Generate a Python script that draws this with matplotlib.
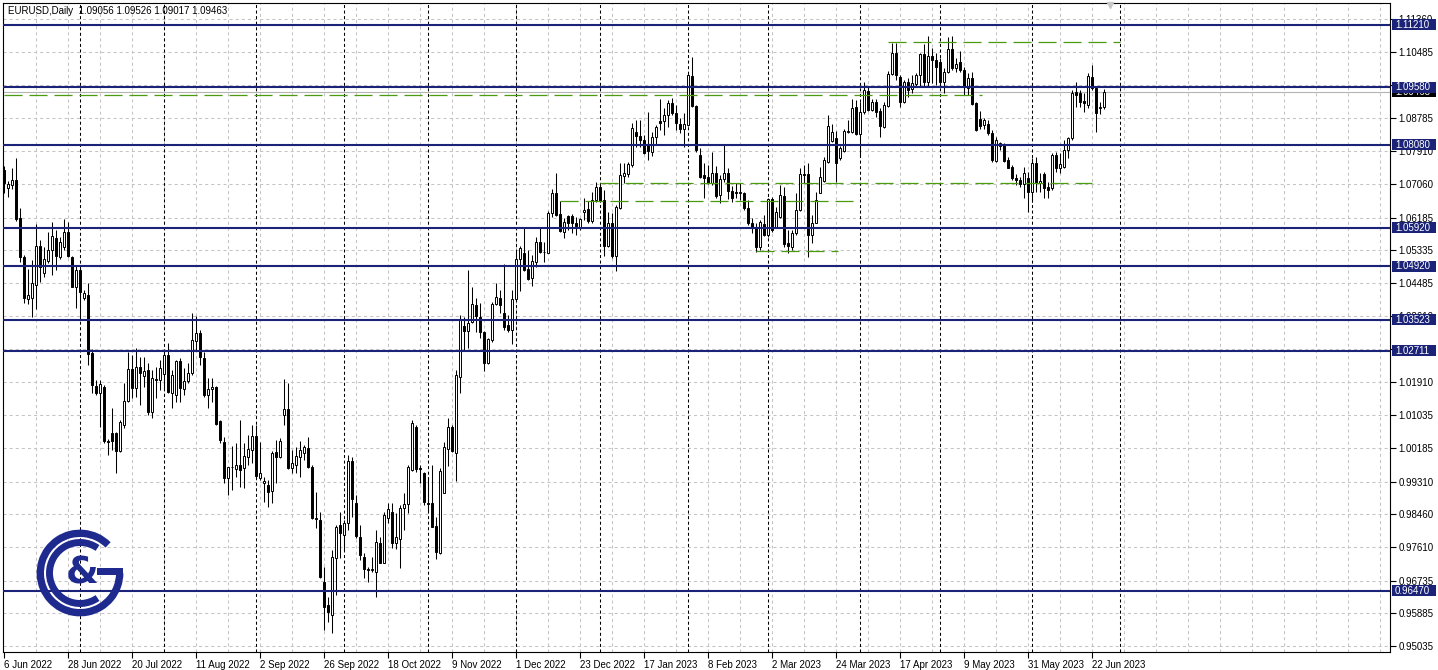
import numpy as np
import pandas as pd
import matplotlib
matplotlib.use("Agg")
import matplotlib.pyplot as plt
from matplotlib import patches, transforms

# ---- data: EURUSD daily bars, 6 Jun 2022 .. 27 Jun 2023 (no bar on 26 Dec 2022) ----
SYMBOL = "EURUSD,Daily"

opens = [
    1.07422, 1.06945, 1.07032, 1.07162, 1.06164, 1.05149, 1.04055, 1.04081, 1.04428, 1.05452,
    1.04732, 1.05062, 1.05340, 1.05643, 1.05166, 1.05409, 1.05800, 1.05166, 1.04385, 1.04819,
    1.04081, 1.04168, 1.02649, 1.01799, 1.01608, 1.01782, 1.00367, 1.00567, 1.00567, 1.00107,
    1.00784, 1.01417, 1.02233, 1.01738, 1.02285, 1.02068, 1.02216, 1.01131, 1.01973, 1.01955,
    1.02103, 1.02597, 1.01608, 1.01565, 1.02450, 1.01712, 1.01929, 1.02129, 1.02979, 1.03187,
    1.02519, 1.01565, 1.01712, 1.01782, 1.00896, 1.00350, 0.99395, 0.99690, 0.99629, 0.99742,
    0.99656, 0.99942, 1.00133, 1.00497, 0.99413, 0.99265, 0.99222, 0.99074, 1.00089, 0.99942,
    1.01044, 1.01191, 0.99656, 0.99742, 0.99942, 1.00063, 1.00194, 0.99699, 0.98354, 0.98310,
    0.96705, 0.96098, 0.95837, 0.97312, 0.98180, 0.97920, 0.98241, 0.99847, 0.98744, 0.97877,
    0.97339, 0.97026, 0.97009, 0.96965, 0.97703, 0.97200, 0.98354, 0.98527, 0.97703, 0.97807,
    0.98614, 0.98727, 0.99612, 1.00723, 0.99656, 0.99525, 0.98744, 0.98762, 0.98154, 0.97443,
    0.99022, 1.00150, 1.00723, 1.00063, 1.02025, 1.03361, 1.03240, 1.03474, 1.03908, 1.03604,
    1.03214, 1.02389, 1.02997, 1.03934, 1.04081, 1.03691, 1.03387, 1.03257, 1.04055, 1.05097,
    1.05270, 1.04836, 1.04602, 1.05036, 1.05557, 1.05296, 1.05270, 1.06294, 1.06814, 1.06268,
    1.05816, 1.06224, 1.06224, 1.06051, 1.05929, 1.06337, 1.06398, 1.06103, 1.06641, 1.06971,
    1.06641, 1.05443, 1.06033, 1.05183, 1.06424, 1.07266, 1.07318, 1.07552, 1.08420, 1.08307,
    1.08203, 1.08073, 1.07899, 1.08272, 1.08698, 1.08706, 1.08854, 1.09175, 1.08915, 1.08619,
    1.08481, 1.08593, 1.09869, 1.09088, 1.07812, 1.07292, 1.07231, 1.07075, 1.07335, 1.06771,
    1.07179, 1.07352, 1.06884, 1.06841, 1.06814, 1.06832, 1.06424, 1.06033, 1.05947, 1.05409,
    1.06016, 1.05730, 1.06658, 1.05947, 1.06207, 1.06754, 1.05530, 1.05409, 1.05773, 1.06381,
    1.07318, 1.07318, 1.05730, 1.06051, 1.06832, 1.07144, 1.07639, 1.08177, 1.08246, 1.07726,
    1.07917, 1.08403, 1.08420, 1.09071, 1.08351, 1.08923, 1.09479, 1.08984, 1.09184, 1.08958,
    1.08550, 1.09097, 1.09913, 1.10459, 1.09852, 1.09184, 1.09704, 1.09531, 1.09652, 1.09895,
    1.10433, 1.09704, 1.10390, 1.10286, 1.10225, 1.09704, 1.09982, 1.10572, 1.10086, 1.10225,
    1.10025, 1.09548, 1.09809, 1.09158, 1.08750, 1.08593, 1.08611, 1.08377, 1.07656, 1.08056,
    1.08090, 1.07682, 1.07509, 1.07222, 1.07162, 1.07049, 1.07222, 1.06858, 1.07596, 1.07075,
    1.07309, 1.06988, 1.06962, 1.07813, 1.07465, 1.07509, 1.07943, 1.08246, 1.09461, 1.09418,
    1.09218, 1.09114, 1.09852, 1.09566, 1.09045, 1.09056,
]
highs = [
    1.07526, 1.07145, 1.07466, 1.07726, 1.06424, 1.05209, 1.04836, 1.05079, 1.06016, 1.05600,
    1.05426, 1.05817, 1.06077, 1.05860, 1.05687, 1.06138, 1.06077, 1.05183, 1.04949, 1.04862,
    1.04298, 1.04472, 1.02754, 1.01955, 1.01955, 1.01825, 1.00410, 1.01218, 1.00610, 1.00914,
    1.01868, 1.02693, 1.02606, 1.02780, 1.02545, 1.02563, 1.02389, 1.02216, 1.02302, 1.02476,
    1.02736, 1.02927, 1.02216, 1.02476, 1.02519, 1.02259, 1.02389, 1.03691, 1.03621, 1.03257,
    1.02693, 1.01999, 1.02016, 1.01799, 1.00914, 1.00463, 0.99699, 1.00237, 1.00324, 1.00914,
    1.00306, 1.00523, 1.00784, 1.00784, 1.00350, 0.99439, 0.99352, 1.00107, 1.00393, 1.00437,
    1.01981, 1.01868, 1.00133, 1.00220, 1.00367, 1.00263, 1.00480, 0.99742, 0.99048, 0.98527,
    0.97096, 0.96314, 0.97529, 0.98180, 0.98527, 0.98310, 1.00003, 0.99959, 0.98961, 0.98180,
    0.97443, 0.97096, 0.97356, 0.98050, 0.97877, 0.98527, 0.98762, 0.98744, 0.98484, 0.98701,
    0.99005, 0.99742, 1.00914, 1.00784, 0.99742, 0.99569, 0.99439, 0.99742, 0.98397, 0.99656,
    1.00350, 1.00957, 1.00784, 1.02216, 1.03647, 1.03604, 1.04819, 1.04385, 1.04081, 1.03951,
    1.03240, 1.03040, 1.03995, 1.04472, 1.04298, 1.04966, 1.03647, 1.04298, 1.05340, 1.05444,
    1.05904, 1.05340, 1.05209, 1.05687, 1.05904, 1.05557, 1.06364, 1.06919, 1.07352, 1.06624,
    1.06164, 1.06250, 1.06276, 1.06207, 1.06164, 1.06684, 1.06624, 1.06858, 1.07118, 1.07092,
    1.06901, 1.06337, 1.06294, 1.06511, 1.07595, 1.07613, 1.07639, 1.08654, 1.08724, 1.08724,
    1.08333, 1.08941, 1.08420, 1.08593, 1.09262, 1.09027, 1.09244, 1.09288, 1.09114, 1.08767,
    1.08897, 1.09921, 1.10355, 1.09114, 1.07986, 1.07613, 1.07552, 1.07899, 1.07526, 1.07292,
    1.08073, 1.07465, 1.07005, 1.07075, 1.07092, 1.06858, 1.06641, 1.06164, 1.06033, 1.06120,
    1.06250, 1.06684, 1.06728, 1.06467, 1.07031, 1.06988, 1.05860, 1.05860, 1.06814, 1.07465,
    1.07552, 1.07595, 1.06250, 1.06858, 1.07509, 1.07769, 1.08854, 1.08611, 1.08437, 1.08056,
    1.08489, 1.08724, 1.09270, 1.09244, 1.09184, 1.09704, 1.09592, 1.09270, 1.09270, 1.09045,
    1.09184, 1.09999, 1.10720, 1.10720, 1.09895, 1.09765, 1.09809, 1.09895, 1.09938, 1.10459,
    1.10694, 1.10919, 1.10590, 1.10459, 1.10329, 1.10069, 1.10893, 1.10919, 1.10329, 1.10520,
    1.10112, 1.09938, 1.09982, 1.09184, 1.08958, 1.08767, 1.08724, 1.08463, 1.08290, 1.08160,
    1.08116, 1.07769, 1.07552, 1.07309, 1.07248, 1.07509, 1.07379, 1.07743, 1.07769, 1.07335,
    1.07379, 1.07101, 1.07856, 1.07882, 1.07856, 1.08203, 1.08290, 1.09505, 1.09722, 1.09505,
    1.09418, 1.09938, 1.10156, 1.09592, 1.09201, 1.09526,
]
lows = [
    1.06832, 1.06728, 1.06919, 1.06103, 1.05036, 1.03951, 1.03934, 1.03587, 1.03795, 1.04515,
    1.04645, 1.04992, 1.04689, 1.04819, 1.05097, 1.05340, 1.05149, 1.04368, 1.03821, 1.03587,
    1.04038, 1.02346, 1.01608, 1.01565, 1.00740, 1.00306, 1.00003, 1.00133, 0.99525, 1.00089,
    1.00697, 1.01391, 1.01478, 1.01521, 1.01304, 1.01764, 1.01044, 1.00957, 1.01478, 1.01695,
    1.01695, 1.01608, 1.01218, 1.01391, 1.01391, 1.01565, 1.01868, 1.02085, 1.02736, 1.02346,
    1.01521, 1.01218, 1.01391, 1.00784, 1.00306, 0.99265, 0.98961, 0.99091, 0.99439, 0.99178,
    0.99135, 0.99742, 0.99786, 0.99395, 0.99352, 0.98788, 0.98640, 0.98744, 0.99265, 0.99916,
    1.00784, 0.99629, 0.99543, 0.99525, 0.99439, 0.99873, 0.99656, 0.98328, 0.98093, 0.96792,
    0.95447, 0.95664, 0.95360, 0.96358, 0.97312, 0.97529, 0.98050, 0.98380, 0.97833, 0.97269,
    0.96792, 0.96705, 0.96965, 0.96314, 0.97182, 0.97182, 0.98224, 0.97573, 0.97547, 0.97052,
    0.98050, 0.98484, 0.99595, 0.99569, 0.99265, 0.98701, 0.98527, 0.98119, 0.97286, 0.97425,
    0.99005, 0.99716, 1.00089, 0.99334, 1.01625, 1.02736, 1.02780, 1.03430, 1.03214, 1.03040,
    1.02198, 1.02363, 1.02953, 1.03908, 1.03691, 1.03257, 1.03214, 1.02892, 1.04038, 1.04281,
    1.04802, 1.04559, 1.04402, 1.04888, 1.05270, 1.05036, 1.05253, 1.06207, 1.06224, 1.05816,
    1.05643, 1.05860, 1.05790, 1.05730, 1.05860, 1.06120, 1.06051, 1.06051, 1.06598, 1.06598,
    1.05183, 1.05409, 1.05122, 1.04801, 1.06398, 1.07075, 1.07248, 1.07509, 1.08012, 1.08029,
    1.07838, 1.07682, 1.07786, 1.08073, 1.08463, 1.08333, 1.08533, 1.08854, 1.08463, 1.08376,
    1.08029, 1.08567, 1.09071, 1.07899, 1.07205, 1.06684, 1.07057, 1.07031, 1.06684, 1.06554,
    1.07118, 1.06658, 1.06598, 1.06684, 1.06641, 1.06381, 1.05990, 1.05773, 1.05296, 1.05339,
    1.05704, 1.05686, 1.05816, 1.05903, 1.06164, 1.05426, 1.05252, 1.05339, 1.05730, 1.06350,
    1.07075, 1.05166, 1.05513, 1.06033, 1.06814, 1.07118, 1.07613, 1.08142, 1.07118, 1.07682,
    1.07899, 1.08377, 1.08377, 1.08333, 1.07795, 1.08871, 1.08958, 1.08958, 1.08811, 1.08290,
    1.08524, 1.09071, 1.09895, 1.09765, 1.09071, 1.09158, 1.09331, 1.09418, 1.09592, 1.09618,
    1.09592, 1.09618, 1.09678, 1.09635, 1.09592, 1.09418, 1.09938, 1.10025, 1.09982, 1.09982,
    1.09375, 1.09375, 1.09114, 1.08437, 1.08489, 1.08489, 1.08333, 1.07639, 1.07639, 1.07943,
    1.07639, 1.07465, 1.07162, 1.07032, 1.06988, 1.06684, 1.06337, 1.06598, 1.06858, 1.06858,
    1.06684, 1.06684, 1.06901, 1.07379, 1.07335, 1.07483, 1.07726, 1.08203, 1.09071, 1.09071,
    1.08923, 1.09045, 1.09505, 1.08420, 1.08871, 1.09017,
]
closes = [
    1.07075, 1.07058, 1.07162, 1.06147, 1.05149, 1.04081, 1.04168, 1.04472, 1.05452, 1.04906,
    1.05097, 1.05340, 1.05704, 1.05183, 1.05539, 1.05800, 1.05183, 1.04385, 1.04819, 1.04255,
    1.04211, 1.02632, 1.01825, 1.01608, 1.01842, 1.00367, 1.00350, 1.00367, 1.00107, 1.00870,
    1.01417, 1.02233, 1.01738, 1.02285, 1.02146, 1.02189, 1.01131, 1.01999, 1.01964, 1.02259,
    1.02597, 1.01651, 1.02085, 1.02450, 1.01738, 1.01929, 1.02129, 1.02997, 1.03187, 1.02563,
    1.01565, 1.01712, 1.01773, 1.00810, 1.00393, 0.99395, 0.99682, 0.99699, 0.99742, 0.99612,
    0.99977, 1.00150, 1.00497, 0.99456, 0.99543, 0.99326, 0.99048, 1.00063, 0.99959, 1.00376,
    1.01200, 0.99656, 0.99786, 0.99977, 1.00133, 1.00220, 0.99682, 0.98354, 0.98328, 0.96835,
    0.96054, 0.95924, 0.97356, 0.98137, 0.97963, 0.98224, 0.99847, 0.98848, 0.97894, 0.97399,
    0.97026, 0.97009, 0.97026, 0.97746, 0.97200, 0.98441, 0.98588, 0.97720, 0.97859, 0.98614,
    0.98727, 0.99682, 1.00827, 0.99629, 0.99629, 0.98788, 0.98727, 0.98137, 0.97486, 0.99586,
    1.00220, 1.00723, 1.00115, 1.02085, 1.03517, 1.03240, 1.03448, 1.03925, 1.03621, 1.03214,
    1.02406, 1.03014, 1.03934, 1.04107, 1.03908, 1.03344, 1.03257, 1.04055, 1.05097, 1.05383,
    1.04819, 1.04585, 1.05053, 1.05557, 1.05296, 1.05279, 1.06312, 1.06815, 1.06250, 1.05843,
    1.06077, 1.06033, 1.06033, 1.05964, 1.06138, 1.06372, 1.06103, 1.06641, 1.06988, 1.06624,
    1.05443, 1.06033, 1.05183, 1.06450, 1.07292, 1.07335, 1.07578, 1.08507, 1.08307, 1.08203,
    1.07856, 1.07925, 1.08290, 1.08533, 1.08654, 1.08854, 1.09158, 1.08897, 1.08654, 1.08481,
    1.08619, 1.09895, 1.09088, 1.07943, 1.07231, 1.07205, 1.07075, 1.07335, 1.06754, 1.07179,
    1.07352, 1.06884, 1.06702, 1.06814, 1.06849, 1.06424, 1.06033, 1.05947, 1.05409, 1.06077,
    1.05730, 1.06658, 1.05860, 1.06320, 1.06771, 1.05495, 1.05443, 1.05790, 1.06381, 1.07318,
    1.07292, 1.05730, 1.06051, 1.06641, 1.07248, 1.07682, 1.08567, 1.08403, 1.07596, 1.07986,
    1.08437, 1.08437, 1.09045, 1.08351, 1.08923, 1.09505, 1.08984, 1.09184, 1.08941, 1.08576,
    1.09114, 1.09913, 1.10459, 1.09895, 1.09201, 1.09704, 1.09505, 1.09678, 1.09895, 1.10433,
    1.09704, 1.10399, 1.10286, 1.10112, 1.09722, 1.09982, 1.10572, 1.10086, 1.10173, 1.10025,
    1.09592, 1.09809, 1.09132, 1.08463, 1.08576, 1.08724, 1.08377, 1.07682, 1.08203, 1.08116,
    1.07656, 1.07483, 1.07205, 1.07162, 1.07049, 1.07335, 1.06858, 1.07596, 1.07075, 1.07136,
    1.06945, 1.06901, 1.07813, 1.07483, 1.07570, 1.07943, 1.08246, 1.09418, 1.09375, 1.09201,
    1.09158, 1.09878, 1.09548, 1.08897, 1.09071, 1.09463,
]

# horizontal levels (navy) and the bid line
levels = [1.11210, 1.09580, 1.08080, 1.05920, 1.04920, 1.03523, 1.02711, 0.96470]
bid = 1.09463

# green dashed trend segments: price, first bar, last bar
seg_price = [1.10762, 1.09375, 1.07076, 1.06623, 1.05313]
seg_from = [221, 0, 149, 139, 188]
seg_to = [279, 244.5, 272, 213, 208.5]

# price scale grid; labels that sit fully under a level box are left blank
yticks = [1.11360, 1.10485, 1.09635, 1.08785, 1.07910, 1.07060, 1.06185, 1.05335,
          1.04485, 1.03610, 1.02760, 1.01910, 1.01035, 1.00185, 0.99310, 0.98460,
          0.97610, 0.96735, 0.95885, 0.95035]
hidden_ticks = [1.09635, 1.02760]

NAVY = "#1b2378"
LOGO = "#1f2a8f"
GREEN = "#4c9a10"
GRID = "#c4c4c4"

plt.rcParams["font.family"] = ["Liberation Sans", "DejaVu Sans"]
plt.rcParams["lines.scale_dashes"] = False

W, H = 1438, 670
fig = plt.figure(figsize=(W / 100, H / 100), dpi=100)
fig.patch.set_facecolor("white")
L, R, T, B = 3, 1390, 3, 652          # chart box in pixels
ax = fig.add_axes([L / W, 1 - B / H, (R - L) / W, (B - T) / H])

o, h, l, c = (np.asarray(v) for v in (opens, highs, lows, closes))
n = len(o)
idx = np.arange(n)

# calendar for the bars (and a few days beyond, for the month separators)
cal = pd.bdate_range("2022-06-06", "2023-07-05")
cal = cal[cal != pd.Timestamp("2022-12-26")]

x_max = (R - 4) / 4                   # 4 px per bar, first bar at x=4
ax.set_xlim(-0.25, x_max)
ax.set_ylim(0.94874, 1.11770)

# grid
for v in yticks:
    ax.axhline(v, color=GRID, lw=0.75, dashes=(2.2, 2.2), zorder=0)
for k in range(8, int(x_max) + 1, 8):
    ax.axvline(k, color=GRID, lw=0.75, dashes=(2.2, 2.2), zorder=0)

# month separators
months = pd.Series(cal.month)
for m in np.where(months.diff().fillna(0).to_numpy() != 0)[0]:
    ax.axvline(m, color="black", lw=0.75, dashes=(2.2, 1.8), zorder=1)

ax.axhline(bid, color="#b4b4b4", lw=0.8, zorder=2)

# candles
up = c >= o
ax.vlines(idx, l, h, color="black", lw=0.75, zorder=3)
ax.bar(idx, np.maximum(np.abs(c - o), 0.00004), bottom=np.minimum(o, c), width=0.62,
       color=np.where(up, "white", "black"), edgecolor="black", linewidth=0.7, zorder=4)

for v in levels:
    ax.axhline(v, color=NAVY, lw=1.5, zorder=5)
ax.hlines(seg_price, seg_from, seg_to, colors=GREEN, lw=0.9,
          linestyles=[(0, (13, 5))], zorder=5)

# shift marker
ax.plot([276.5], [1.11720], marker="v", ms=5, color="#c8c8c8", mec="#c8c8c8",
        clip_on=False, zorder=6)

# axes / ticks
for s in ax.spines.values():
    s.set_linewidth(0.8)
    s.set_color("black")
ax.yaxis.tick_right()
ax.set_yticks(yticks)
ax.set_yticklabels(["" if v in hidden_ticks else f"{v:.5f}" for v in yticks])
ax.tick_params(axis="y", direction="out", length=4, width=0.8, pad=2, labelsize=7)
label_pos = list(range(0, n, 16))
ax.set_xticks(label_pos)
ax.set_xticklabels([f"{cal[i].day} {cal[i]:%b %Y}" for i in label_pos], ha="left")
ax.tick_params(axis="x", direction="out", length=4, width=0.8, pad=2, labelsize=7)

# price boxes on the scale
bt = transforms.blended_transform_factory(fig.transFigure, ax.transData)
px = (1.11770 - 0.94874) / (B - T)


def price_box(v, face, z):
    fig.add_artist(patches.Rectangle((1392 / W, v - 5.5 * px), 44 / W, 11 * px,
                                     transform=bt, facecolor=face, edgecolor="none",
                                     zorder=z))
    fig.text(1395 / W, v, f"{v:.5f}", transform=bt, color="white", fontsize=7,
             va="center", ha="left", zorder=z + 0.5)


price_box(bid, "black", 5)
for v in levels:
    price_box(v, NAVY, 7)

fig.text(8 / W, 1 - 11 / H,
         f"{SYMBOL}  {o[-1]:.5f} {h[-1]:.5f} {l[-1]:.5f} {c[-1]:.5f}",
         fontsize=7, va="center", ha="left")

# logo
lg = fig.add_axes([30 / W, 47 / H, 100 / W, 100 / H])
lg.set_xlim(0, 100)
lg.set_ylim(0, 100)
lg.axis("off")
lg.patch.set_alpha(0)
lg.add_patch(patches.Arc((50, 50), 79.4, 79.4, theta1=45, theta2=360, lw=5.3, color=LOGO))
lg.add_patch(patches.Rectangle((67, 47.6), 26.4, 7.0, color=LOGO, lw=0))
lg.add_patch(patches.Arc((50, 50), 61, 61, theta1=55, theta2=305, lw=5.0, color=LOGO))
lg.text(52.5, 50, "&", fontsize=27, fontweight="bold", family="DejaVu Sans",
        ha="center", va="center", color=LOGO)

fig.savefig("out.png", dpi=100)
